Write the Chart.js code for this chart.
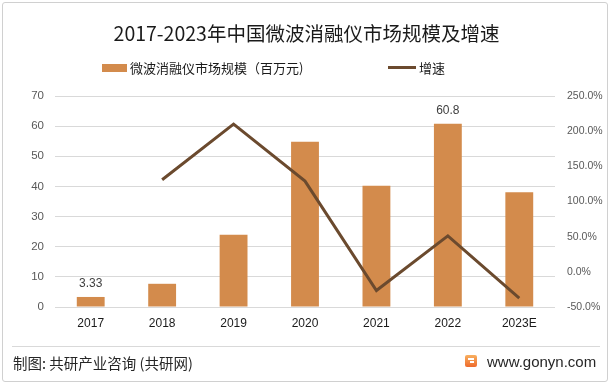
<!DOCTYPE html>
<html>
<head>
<meta charset="utf-8">
<script src="https://cdn.jsdelivr.net/npm/chart.js@4/dist/chart.umd.min.js"></script>
<style>
  html, body { margin: 0; padding: 0; background: #fff; }
  #wrap { position: relative; width: 613px; height: 386px; overflow: hidden; background: #fff; }
  #frame { position: absolute; left: 2px; top: 2px; width: 606px; height: 380px; border: 1px solid #d0d0d0; border-radius: 3px; box-sizing: border-box; }
  canvas { position: absolute; left: 0; top: 0; }
  .t { position: absolute; white-space: nowrap; font-family: "Noto Sans CJK SC", "Noto Sans", sans-serif; }
  #title { left: 0; width: 613px; top: 19px; text-align: center; font-size: 19.5px; color: #1a1a1a; line-height: 28px; }
  #leg1sw { position: absolute; left: 102px; top: 64px; width: 25px; height: 8px; background: #D38B4C; }
  #leg1 { left: 130px; top: 58px; font-size: 13px; color: #1a1a1a; line-height: 20px; }
  #leg2sw { position: absolute; left: 388px; top: 66px; width: 28px; height: 3px; background: #6B4A2E; }
  #leg2 { left: 419px; top: 58px; font-size: 13px; color: #1a1a1a; line-height: 20px; }
  #sep { position: absolute; left: 12px; top: 346px; width: 588px; height: 1px; background: #d9d9d9; }
  #foot { left: 13px; top: 352px; font-size: 14.5px; color: #262626; line-height: 22px; }
  #logo { position: absolute; left: 465px; top: 355px; width: 12px; height: 12px; background: linear-gradient(#F8B060, #EE6A2C); border-radius: 2px; }
  #logo:before { content: ""; position: absolute; left: 3px; top: 3px; width: 6px; height: 2px; background: #fff; }
  #logo:after { content: ""; position: absolute; left: 5px; top: 6px; width: 4px; height: 2px; background: #fff; }
  #site { left: 487px; top: 352px; font-size: 15px; color: #262626; line-height: 20px; font-family: "Liberation Sans", "Noto Sans", sans-serif; }
</style>
</head>
<body>
<div id="wrap">
  <div id="frame"></div>
  <canvas id="c" width="613" height="386"></canvas>
  <div class="t" id="title">2017-2023年中国微波消融仪市场规模及增速</div>
  <div id="leg1sw"></div>
  <div class="t" id="leg1">微波消融仪市场规模（百万元)</div>
  <div id="leg2sw"></div>
  <div class="t" id="leg2">增速</div>
  <div id="sep"></div>
  <div class="t" id="foot">制图: 共研产业咨询 (共研网)</div>
  <div id="logo"></div>
  <div class="t" id="site">www.gonyn.com</div>
</div>
<script>
const categories = ["2017", "2018", "2019", "2020", "2021", "2022", "2023E"];
const marketSize = [3.33, 7.7, 24.0, 54.8, 40.2, 60.8, 38.1];
const growthRate = [null, 131, 210, 129, -26.6, 51.2, -37.3];
const labeledIndexes = [0, 5];
const leftTicks = [0, 10, 20, 30, 40, 50, 60, 70];
const rightTicks = [-50, 0, 50, 100, 150, 200, 250];

const barLabels = {
  id: 'barLabels',
  afterDatasetsDraw(chart) {
    const ctx = chart.ctx;
    const meta = chart.getDatasetMeta(1);
    ctx.save();
    ctx.font = '12px "Liberation Sans", sans-serif';
    ctx.fillStyle = '#404040';
    ctx.textAlign = 'center';
    ctx.textBaseline = 'middle';
    labeledIndexes.forEach(i => {
      const el = meta.data[i];
      ctx.fillText(String(marketSize[i]), el.x, el.y - 13);
    });
    ctx.restore();
  }
};

new Chart(document.getElementById('c'), {
  data: {
    labels: categories,
    datasets: [
      {
        type: 'line',
        label: '增速',
        data: growthRate,
        yAxisID: 'y2',
        borderColor: '#6B4A2E',
        backgroundColor: '#6B4A2E',
        borderWidth: 3,
        pointRadius: 0,
        tension: 0,
        order: 0
      },
      {
        type: 'bar',
        label: '微波消融仪市场规模（百万元)',
        data: marketSize,
        yAxisID: 'y',
        backgroundColor: '#D38B4C',
        barPercentage: 0.39,
        categoryPercentage: 1,
        order: 1
      }
    ]
  },
  options: {
    responsive: false,
    animation: false,
    layout: { padding: { top: 96, bottom: 49, left: 0, right: 0 } },
    plugins: { legend: { display: false }, title: { display: false }, tooltip: { enabled: false } },
    scales: {
      x: {
        grid: { display: false, drawTicks: false },
        border: { display: false },
        ticks: { padding: 9, color: '#1a1a1a', font: { family: '"Liberation Sans", sans-serif', size: 12 } },
        afterFit(s) { s.height = 30; }
      },
      y: {
        position: 'left',
        min: 0, max: 70,
        afterBuildTicks(s) { s.ticks = leftTicks.map(v => ({ value: v })); },
        grid: { color: '#d9d9d9', drawTicks: false, lineWidth: 1 },
        border: { display: false },
        ticks: { padding: 11, color: '#595959', font: { family: '"Liberation Sans", sans-serif', size: 11.5 } },
        afterFit(s) { s.width = 55; }
      },
      y2: {
        position: 'right',
        min: -50, max: 250,
        afterBuildTicks(s) { s.ticks = rightTicks.map(v => ({ value: v })); },
        grid: { display: false, drawTicks: false },
        border: { display: false },
        ticks: {
          padding: 12, color: '#595959', font: { family: '"Liberation Sans", sans-serif', size: 10.5 },
          callback: v => v.toFixed(1) + '%'
        },
        afterFit(s) { s.width = 58; }
      }
    }
  },
  plugins: [barLabels]
});
</script>
</body>
</html>
